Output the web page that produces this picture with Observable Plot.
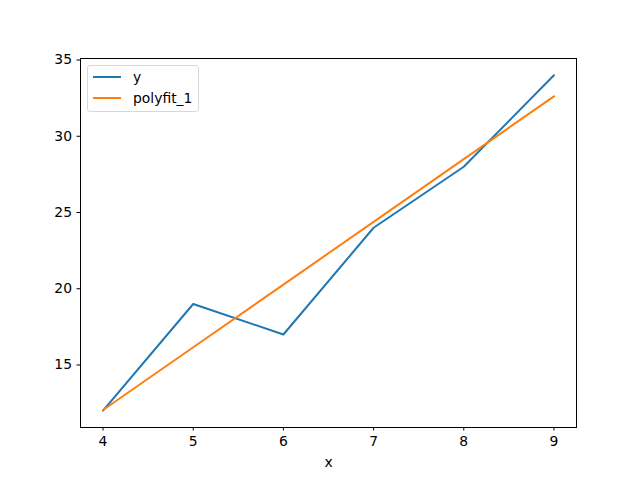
<!DOCTYPE html>
<html>
<head>
<meta charset="utf-8">
<script src="https://cdn.jsdelivr.net/npm/d3@7"></script>
<script src="https://cdn.jsdelivr.net/npm/@observablehq/plot@0.6"></script>
<style>
  html, body { margin: 0; padding: 0; background: #fff; }
  #wrap { position: relative; width: 640px; height: 480px; font-family: "DejaVu Sans", sans-serif; }
  #legend { position: absolute; left: 87px; top: 65px; width: 110px; height: 45px; border: 1px solid #d9d9d9; border-radius: 3px; background: rgba(255,255,255,0.8); font-size: 13.9px; color: #000; }
  .row { position: absolute; left: 5px; height: 16px; display: flex; align-items: center; }
  .sw { width: 28px; height: 0; border-top: 2px solid; margin-right: 12px; }
</style>
</head>
<body>
<div id="wrap"></div>
<script>
const xs = [4, 5, 6, 7, 8, 9];
const ySeries = [12, 19, 17, 24, 28, 34];
const polyfit1 = [12.05, 16.16, 20.27, 24.39, 28.50, 32.62];
const seriesNames = ["y", "polyfit_1"];
const seriesColors = ["#1f77b4", "#ff7f0e"];
const xTicks = [4, 5, 6, 7, 8, 9];
const yTicks = [15, 20, 25, 30, 35];

const rows = [];
xs.forEach((x, i) => rows.push({x, v: ySeries[i], s: seriesNames[0]}));
xs.forEach((x, i) => rows.push({x, v: polyfit1[i], s: seriesNames[1]}));

const chart = Plot.plot({
  width: 640,
  height: 480,
  marginLeft: 80,
  marginRight: 64,
  marginTop: 58,
  marginBottom: 53,
  style: {fontFamily: "DejaVu Sans, sans-serif", fontSize: "13.9px", color: "#000", background: "#fff"},
  x: {domain: [3.75, 9.25], ticks: xTicks, tickFormat: d3.format("d"), tickSize: 3.5, tickPadding: 5, label: "x", labelAnchor: "center", labelArrow: "none", labelOffset: 39},
  y: {domain: [10.9, 35.1], ticks: yTicks, tickFormat: d3.format("d"), tickSize: 3.5, tickPadding: 5, label: null},
  color: {domain: seriesNames, range: seriesColors},
  marks: [
    Plot.line(rows, {x: "x", y: "v", z: "s", stroke: "s", strokeWidth: 2}),
    Plot.frame({stroke: "#000", strokeWidth: 1})
  ]
});
document.getElementById("wrap").appendChild(chart);

const legend = document.createElement("div");
legend.id = "legend";
seriesNames.forEach((name, i) => {
  const r = document.createElement("div");
  r.className = "row";
  r.style.top = (3 + i * 21) + "px";
  const sw = document.createElement("div");
  sw.className = "sw";
  sw.style.borderColor = seriesColors[i];
  const t = document.createElement("span");
  t.textContent = name;
  r.appendChild(sw);
  r.appendChild(t);
  legend.appendChild(r);
});
document.getElementById("wrap").appendChild(legend);
</script>
</body>
</html>
